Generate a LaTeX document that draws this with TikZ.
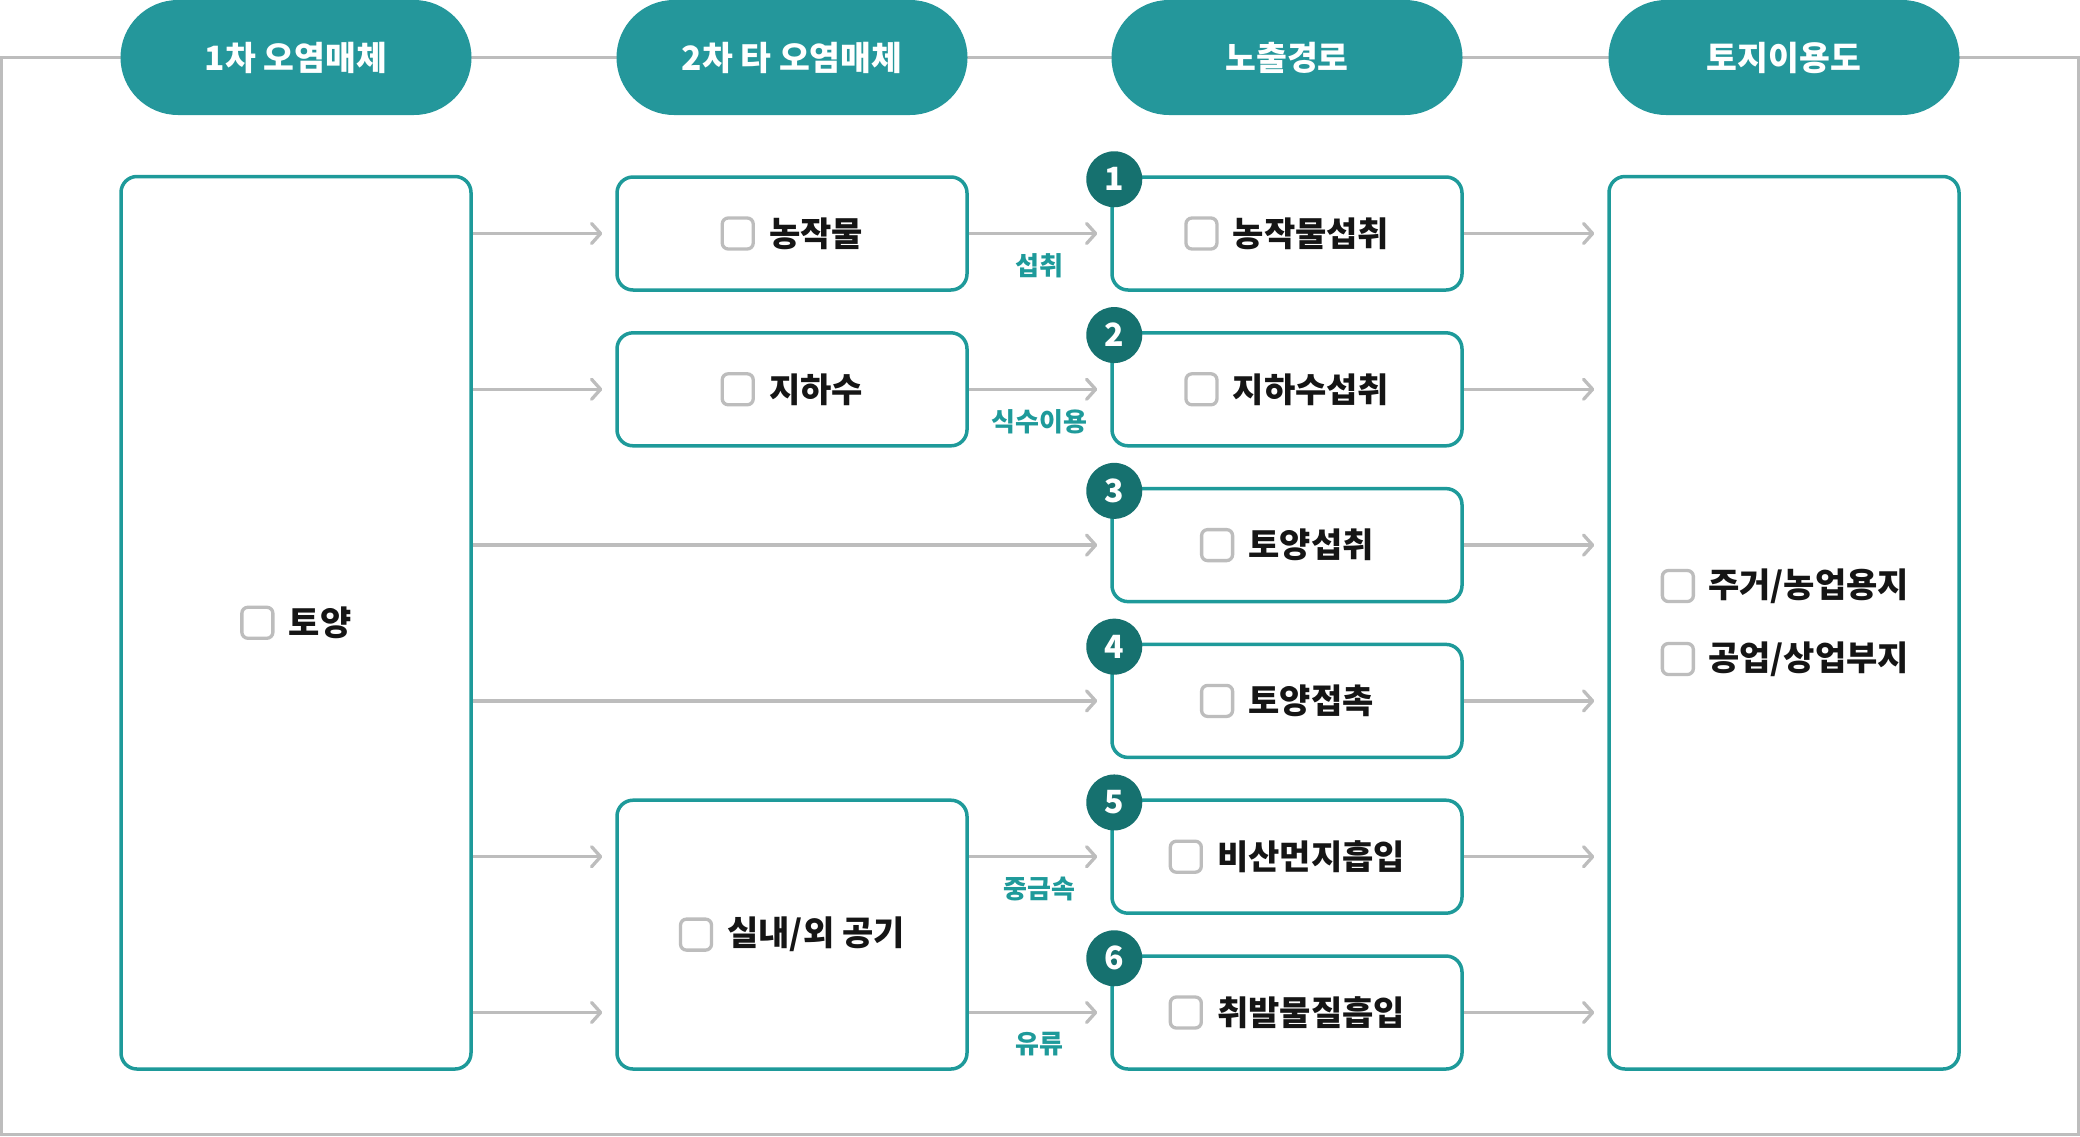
\documentclass[tikz,border=0pt]{standalone}
\usepackage{fontspec}
\newfontfamily\kr{Noto Sans CJK KR}
\usetikzlibrary{arrows.meta,calc,positioning,shapes.misc}
\definecolor{pillc}{HTML}{24979B}
\definecolor{tealc}{HTML}{1E9A9A}
\definecolor{darkc}{HTML}{16716F}
\definecolor{grayc}{HTML}{BDBDBD}
\definecolor{textc}{HTML}{151515}
\tikzset{
  box/.style={draw=tealc, line width=3.5pt, rounded corners=16pt, fill=white, minimum width=350pt, minimum height=113pt, inner sep=0pt},
  pill/.style={rounded rectangle, fill=pillc, minimum width=351pt, minimum height=115pt, inner sep=0pt, text=white, font=\kr\bfseries\fontsize{33.5pt}{36pt}\selectfont},
  chk/.style={draw=grayc, line width=3.3pt, rounded corners=6pt, minimum size=31pt, inner sep=0pt},
  lbl/.style={font=\kr\bfseries\fontsize{34pt}{37pt}\selectfont, text=textc, inner sep=0pt},
  elbl/.style={font=\kr\bfseries\fontsize{26pt}{29pt}\selectfont, text=tealc, inner sep=0pt},
  numc/.style={circle, fill=darkc, minimum size=56pt, inner sep=0pt, text=white, font=\kr\bfseries\fontsize{32pt}{34pt}\selectfont},
  arr/.style={draw=grayc, line width=3.3pt, shorten >=13pt, -{Straight Barb[length=9pt,width=20pt,line cap=round,line join=round]}},
}
\begin{document}
\begin{tikzpicture}[x=1pt,y=-1pt]
\useasboundingbox (0,0) rectangle (2080,1136);
% outer frame
\draw[grayc, line width=3pt] (1.5,57) rectangle (2078.5,1134.5);
% headers
\node[pill] (h1) at (296,57.5) {1차 오염매체};
\node[pill] (h2) at (792,57.5) {2차 타 오염매체};
\node[pill] (h3) at (1287,57.5) {노출경로};
\node[pill] (h4) at (1784,57.5) {토지이용도};
% column 1
\node[box, minimum height=892.5pt] (b1) at (296,622.75) {};
% column 2
\node[box] (b21) at (792,233.5) {};
\node[box] (b22) at (792,389.3) {};
\node[box, minimum height=268.8pt] (b23) at (792,934.6) {};
% column 3
\node[box] (b31) at (1287,233.5) {};
\node[box] (b32) at (1287,389.3) {};
\node[box] (b33) at (1287,545.1) {};
\node[box] (b34) at (1287,700.9) {};
\node[box] (b35) at (1287,856.7) {};
\node[box] (b36) at (1287,1012.5) {};
% column 4
\node[box, minimum height=892.5pt] (b4) at (1784,622.75) {};
% labels
\node[lbl] (t1) at (320,622.75) {토양};
\node[chk, left=14pt of t1] (k1) {};
\node[lbl] (t21) at (816,233.5) {농작물};
\node[chk, left=14pt of t21] (k21) {};
\node[lbl] (t22) at (816,389.3) {지하수};
\node[chk, left=14pt of t22] (k22) {};
\node[lbl] (t23) at (816,934.6) {실내/외 공기};
\node[chk, left=14pt of t23] (k23) {};
\node[lbl] (t31) at (1311,233.5) {농작물섭취};
\node[chk, left=14pt of t31] (k31) {};
\node[lbl] (t32) at (1311,389.3) {지하수섭취};
\node[chk, left=14pt of t32] (k32) {};
\node[lbl] (t33) at (1311,545.1) {토양섭취};
\node[chk, left=14pt of t33] (k33) {};
\node[lbl] (t34) at (1311,700.9) {토양접촉};
\node[chk, left=14pt of t34] (k34) {};
\node[lbl] (t35) at (1311,856.7) {비산먼지흡입};
\node[chk, left=14pt of t35] (k35) {};
\node[lbl] (t36) at (1311,1012.5) {취발물질흡입};
\node[chk, left=14pt of t36] (k36) {};
\node[lbl, anchor=west] (t41) at (1708,586) {주거/농업용지};
\node[chk, left=13pt of t41] (k41) {};
\node[lbl, anchor=west] (t42) at (1708,659) {공업/상업부지};
\node[chk, left=13pt of t42] (k42) {};
% numbers
\node[numc] (n1) at ($(b31.north west)+(4,4)$) {1};
\node[numc] (n2) at ($(b32.north west)+(4,4)$) {2};
\node[numc] (n3) at ($(b33.north west)+(4,4)$) {3};
\node[numc] (n4) at ($(b34.north west)+(4,4)$) {4};
\node[numc] (n5) at ($(b35.north west)+(4,4)$) {5};
\node[numc] (n6) at ($(b36.north west)+(4,4)$) {6};
% arrows col1 -> col2/col3
\draw[arr] (b1.east |- b21.west) -- (b21.west);
\draw[arr] (b1.east |- b22.west) -- (b22.west);
\draw[arr] (b1.east |- b33.west) -- (b33.west);
\draw[arr] (b1.east |- b34.west) -- (b34.west);
\draw[arr] (b1.east |- b35.west) -- (b23.west |- b35.west);
\draw[arr] (b1.east |- b36.west) -- (b23.west |- b36.west);
% arrows col2 -> col3
\draw[arr] (b21.east) -- node[elbl, pos=0.5, yshift=-32pt] (e1) {섭취} (b31.west);
\draw[arr] (b22.east) -- node[elbl, pos=0.5, yshift=-32pt] (e2) {식수이용} (b32.west);
\draw[arr] (b23.east |- b35.west) -- node[elbl, pos=0.5, yshift=-32pt] (e3) {중금속} (b35.west);
\draw[arr] (b23.east |- b36.west) -- node[elbl, pos=0.5, yshift=-32pt] (e4) {유류} (b36.west);
% arrows col3 -> col4
\draw[arr] (b31.east) -- (b4.west |- b31.east);
\draw[arr] (b32.east) -- (b4.west |- b32.east);
\draw[arr] (b33.east) -- (b4.west |- b33.east);
\draw[arr] (b34.east) -- (b4.west |- b34.east);
\draw[arr] (b35.east) -- (b4.west |- b35.east);
\draw[arr] (b36.east) -- (b4.west |- b36.east);
\end{tikzpicture}
\end{document}
